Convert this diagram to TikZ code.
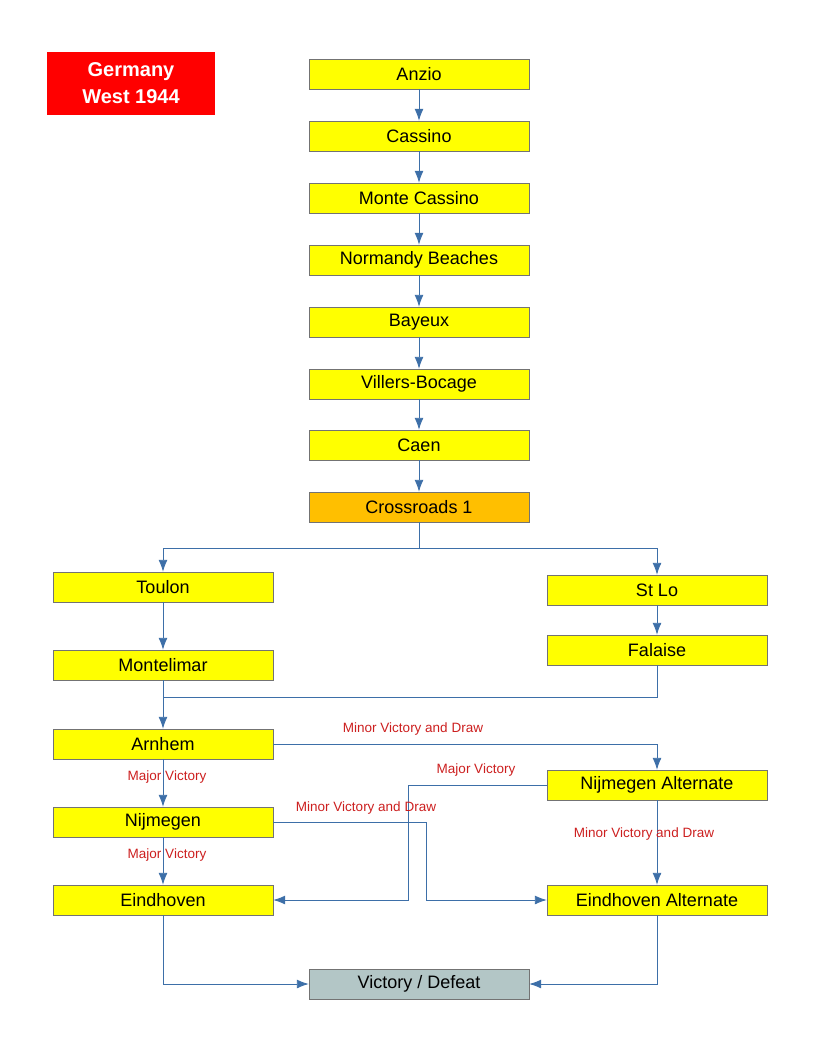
\documentclass[tikz,border=0pt]{standalone}
\usepackage{fontspec}
\setmainfont{Liberation Sans}
\usetikzlibrary{arrows.meta,positioning}
\definecolor{boxyellow}{HTML}{FFFF00}
\definecolor{boxorange}{HTML}{FFBF00}
\definecolor{boxgrey}{HTML}{B3C6C6}
\definecolor{linkblue}{HTML}{3D6FA8}
\definecolor{labelred}{HTML}{CC1F1F}
\begin{document}
\begin{tikzpicture}[x=1pt,y=-1pt]
    \tikzset{
      box/.style={draw=black!55, fill=boxyellow, minimum width=220pt, minimum height=30pt, inner sep=0pt, font=\fontsize{18}{20}\selectfont},
      link/.style={draw=linkblue, line width=0.9pt, -{Latex[length=12pt,width=9pt]}},
      lbl/.style={text=labelred, font=\fontsize{13.5}{15}\selectfont}
    }
    \useasboundingbox (0,0) rectangle (816,1056);
    \node[fill=red, text=white, minimum width=168pt, minimum height=63pt, align=center, font=\bfseries\fontsize{20}{27}\selectfont] (title) at (131,83.5) {Germany\\West 1944};
    % main column
    \foreach \name/\y/\txt in {anzio/74/Anzio, cassino/136/Cassino, monte/198/Monte Cassino, normandy/260/Normandy Beaches, bayeux/322/Bayeux, villers/384/Villers-Bocage, caen/445/Caen} {
        \node[box] (\name) at (419,\y) {\txt};
    }
    \node[box, fill=boxorange] (cross) at (419,507) {Crossroads 1};
    \foreach \current/\next in {anzio/cassino,cassino/monte,monte/normandy,normandy/bayeux,bayeux/villers,villers/caen,caen/cross} {
        \path[link] (\current) -- (\next);
    }
    % branches
    \node[box] (toulon) at (163,587) {Toulon};
    \node[box] (montelimar) at (163,665) {Montelimar};
    \node[box] (stlo) at (657,590) {St Lo};
    \node[box] (falaise) at (657,650) {Falaise};
    \node[box] (arnhem) at (163,744) {Arnhem};
    \node[box] (nijmegen) at (163,822) {Nijmegen};
    \node[box] (eindhoven) at (163,900) {Eindhoven};
    \node[box] (nijalt) at (657,785) {Nijmegen Alternate};
    \node[box] (eindalt) at (657,900) {Eindhoven Alternate};
    \node[box, fill=boxgrey] (result) at (419,984) {Victory / Defeat};
    \coordinate (split) at (419,548);
    \path[link] (cross.south) -- (split) -| (toulon.north);
    \path[link] (split) -| (stlo.north);
    \path[link] (toulon) -- (montelimar);
    \path[link] (stlo) -- (falaise);
    \path[link] (montelimar) -- (arnhem);
    \path[draw=linkblue, line width=0.9pt] (falaise.south) |- (163,697);
    \path[link] (arnhem.east) -| (nijalt.north);
    \path[link] (arnhem) -- (nijmegen);
    \path[link] (nijmegen) -- (eindhoven);
    \path[link] (nijalt) -- (eindalt);
    \path[link] (nijalt.west) -- (408,785) -- (408,900) -- (eindhoven.east);
    \path[link] (nijmegen.east) -- (426,822) -- (426,900) -- (eindalt.west);
    \path[link] (eindhoven.south) |- (result.west);
    \path[link] (eindalt.south) |- (result.east);
    % labels
    \node[lbl] at (413,729) {Minor Victory and Draw};
    \node[lbl] at (167,777) {Major Victory};
    \node[lbl] at (167,855) {Major Victory};
    \node[lbl] at (476,770) {Major Victory};
    \node[lbl] at (366,808) {Minor Victory and Draw};
    \node[lbl] at (644,834) {Minor Victory and Draw};
\end{tikzpicture}
\end{document}
